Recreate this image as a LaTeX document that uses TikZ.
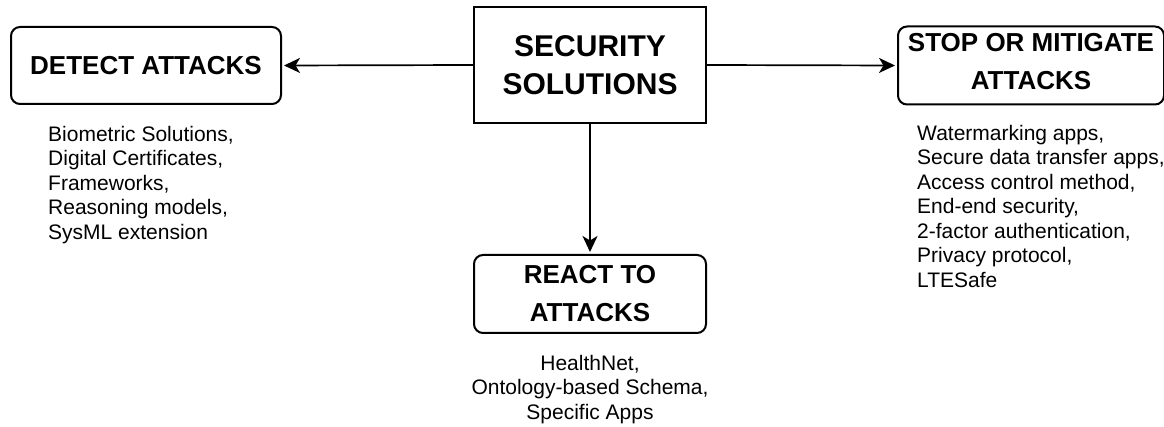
\documentclass[tikz,border=0pt]{standalone}
\usepackage{fontspec}
\setmainfont{Liberation Sans}
\usetikzlibrary{arrows.meta}
\begin{document}
\begin{tikzpicture}[x=1pt,y=-1pt,
  box/.style={draw, line width=2pt, rounded corners=9pt, align=center,
    font=\fontsize{26}{38}\selectfont\bfseries, inner sep=0pt},
  lst/.style={inner sep=0pt, font=\fontsize{21}{24.5}\selectfont},
  arr/.style={-{Stealth[length=16pt,width=15pt,inset=4.5pt]}, line width=1.7pt, shorten >=2pt}]
\useasboundingbox (0,0) rectangle (1164,427);
\node[draw, line width=2pt, minimum width=232pt, minimum height=116pt, inner sep=0pt,
  align=center, font=\fontsize{30}{38}\selectfont\bfseries] (sec) at (590,65) {SECURITY\\SOLUTIONS};
\node[box, minimum width=270pt, minimum height=77pt] (det) at (146,65.5) {DETECT ATTACKS};
\node[box, minimum width=266pt, minimum height=78pt] (stop) at (1031,65.5) {};
\node[align=center, inner sep=0pt, font=\fontsize{26}{38}\selectfont\bfseries] (stoptxt) at (1031,62) {STOP OR MITIGATE\\ATTACKS};
\node[box, minimum width=232pt, minimum height=78pt] (react) at (590,294) {REACT TO\\ATTACKS};
\draw[arr] (sec.west) -- (det.east);
\draw[arr] (sec.east) -- (stop.west);
\draw[arr] (sec.south) -- (react.north);
\node[lst, anchor=north west, align=left] (dl) at (48,126) {Biometric Solutions,\\Digital Certificates,\\Frameworks,\\Reasoning models,\\SysML extension};
\node[lst, anchor=north west, align=left] (sl) at (917,125) {Watermarking apps,\\Secure data transfer apps,\\Access control method,\\End-end security,\\2-factor authentication,\\Privacy protocol,\\LTESafe};
\node[lst, anchor=north, align=center] (rl) at (590,355) {HealthNet,\\Ontology-based Schema,\\Specific Apps};
\end{tikzpicture}
\end{document}
